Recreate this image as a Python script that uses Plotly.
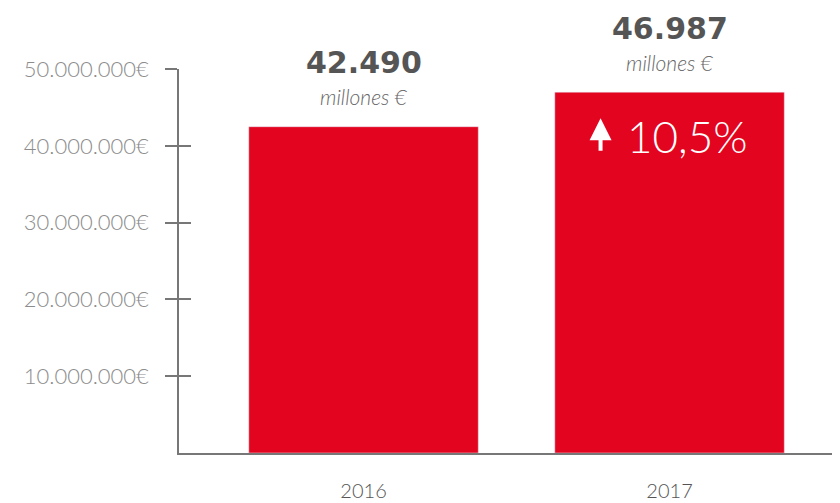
import plotly.graph_objects as go

years = ["2016", "2017"]
values = [42490000, 46987000]
value_labels = ["42.490", "46.987"]
unit_label = "millones \u20ac"
growth_label = "10,5%"
y_ticks = [10000000, 20000000, 30000000, 40000000, 50000000]
y_tick_labels = ["10.000.000\u20ac", "20.000.000\u20ac", "30.000.000\u20ac",
                 "40.000.000\u20ac", "50.000.000\u20ac"]

RED = "#E30520"
AXIS = "#777777"

fig = go.Figure()
fig.add_trace(go.Bar(x=years, y=values, marker_color=RED, width=0.75,
                     hoverinfo="skip", showlegend=False))
# invisible trace to anchor an overlay axis that draws the inner tick halves
fig.add_trace(go.Scatter(x=years, y=values, yaxis="y2", mode="markers",
                         marker=dict(opacity=0), hoverinfo="skip", showlegend=False))

annotations = []
for i, (v, lab) in enumerate(zip(values, value_labels)):
    annotations.append(dict(x=i, y=v, xref="x", yref="y", text="<b>" + lab + "</b>",
                            showarrow=False, yshift=64,
                            font=dict(family="DejaVu Sans", size=30, color="#555555")))
    annotations.append(dict(x=i, y=v, xref="x", yref="y", text="<i>" + unit_label + "</i>",
                            showarrow=False, yshift=30,
                            font=dict(family="Lato", size=21, color="#666666", weight=300)))
# growth arrow
annotations.append(dict(x=1, y=values[1], xref="x", yref="y", text="",
                        showarrow=True, ax=0, ay=34, axref="pixel", ayref="pixel",
                        xshift=-69, yshift=-26,
                        arrowcolor="white", arrowwidth=4, arrowhead=2, arrowsize=1.1,
                        standoff=0, startstandoff=0))
annotations.append(dict(x=1, y=values[1], xref="x", yref="y", text=growth_label,
                        showarrow=False, yshift=-44, xshift=18,
                        font=dict(family="Lato", size=44, color="white", weight=300)))

yrange = [0, 50000000]
fig.update_layout(
    width=840, height=503,
    margin=dict(l=171, r=8, t=61, b=58, autoexpand=False),
    paper_bgcolor="white", plot_bgcolor="white",
    annotations=annotations,
    xaxis=dict(type="category", range=[-0.603, 1.557], showline=True, linecolor=AXIS,
               linewidth=1.5, ticks="", showgrid=False, zeroline=False, automargin=False,
               ticklabelstandoff=19,
               tickfont=dict(family="Lato", size=20, color="#555555", weight=300)),
    yaxis=dict(range=yrange, showline=True, linecolor=AXIS, linewidth=1.5,
               tickmode="array", tickvals=y_ticks, ticktext=y_tick_labels,
               ticks="outside", ticklen=12, tickwidth=1.5, tickcolor=AXIS,
               showgrid=False, zeroline=False, automargin=False,
               ticklabelstandoff=12,
               tickfont=dict(family="Lato", size=22, color="#8c8c8c", weight=300)),
    yaxis2=dict(range=yrange, overlaying="y", side="left", anchor="x",
                tickmode="array", tickvals=y_ticks, showticklabels=False,
                ticks="inside", ticklen=12, tickwidth=1.5, tickcolor=AXIS,
                showgrid=False, zeroline=False, showline=False, automargin=False),
)

fig.write_html("out.html")
